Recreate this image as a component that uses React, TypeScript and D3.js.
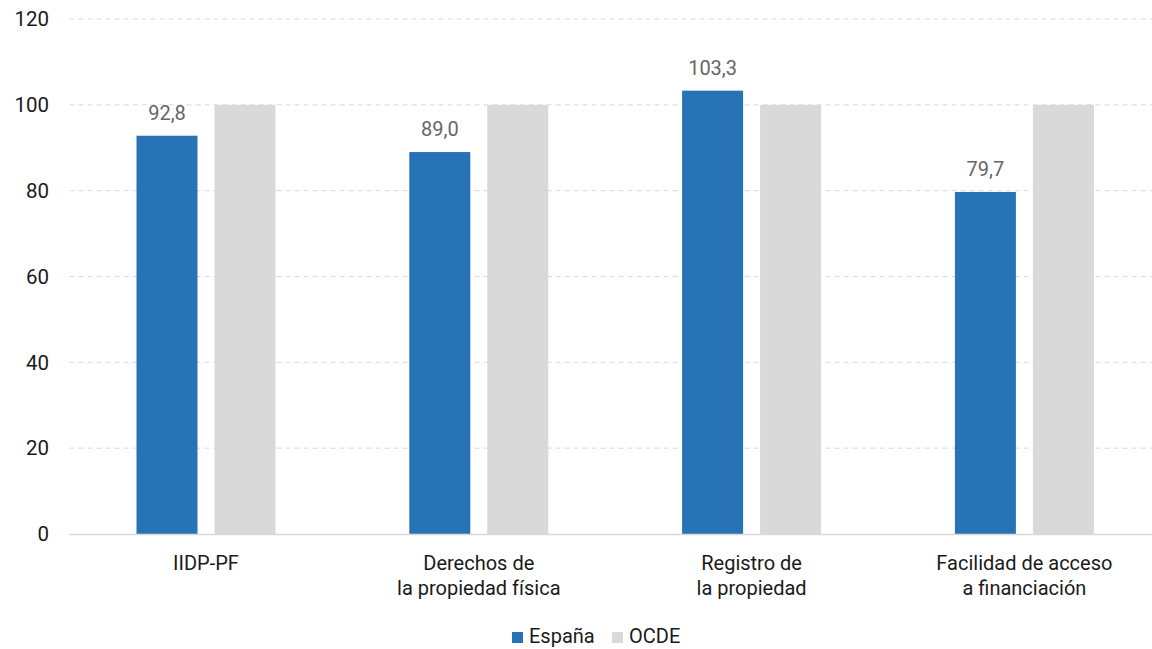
import React from "react";
import * as d3 from "d3";

const categories: string[][] = [
  ["IIDP-PF"],
  ["Derechos de", "la propiedad física"],
  ["Registro de", "la propiedad"],
  ["Facilidad de acceso", "a financiación"],
];
const espana: number[] = [92.8, 89.0, 103.3, 79.7];
const ocde: number[] = [100, 100, 100, 100];
const yTicks: number[] = [0, 20, 40, 60, 80, 100, 120];
const seriesNames: string[] = ["España", "OCDE"];

const W = 1152;
const H = 649;
const FONT = "Roboto, 'DejaVu Sans', sans-serif";
const BLUE = "#2873B6";
const GRAY = "#D9D9D9";

export default function App() {
  const left = 69.6;
  const right = 1160.8;
  const top = 19;
  const bottom = 534;

  const x = d3
    .scaleBand<number>()
    .domain(d3.range(categories.length))
    .range([left, right])
    .paddingInner(0)
    .paddingOuter(0);
  const y = d3.scaleLinear().domain([0, 120]).range([bottom, top]);

  const barW = 61;
  const gap = 17;
  const fmt = (v: number) => v.toFixed(1).replace(".", ",");

  return (
    <svg
      width={W}
      height={H}
      style={{ position: "absolute", left: 0, top: 0, background: "#fff" }}
      fontFamily={FONT}
    >
      {yTicks.map((t) => (
        <g key={t}>
          {t > 0 && (
            <line
              x1={left}
              x2={W}
              y1={y(t)}
              y2={y(t)}
              stroke={GRAY}
              strokeDasharray="5,4"
              strokeWidth={1}
            />
          )}
          <text
            x={49}
            y={y(t)}
            dy="0.35em"
            textAnchor="end"
            fontSize={20.5}
            fill="#1a1a1a"
          >
            {t}
          </text>
        </g>
      ))}
      {categories.map((c, i) => {
        const cx = (x(i) as number) + x.bandwidth() / 2;
        const bx = cx - gap / 2 - barW;
        const gx = cx + gap / 2;
        return (
          <g key={i}>
            <rect x={bx} y={y(espana[i])} width={barW} height={bottom - y(espana[i])} fill={BLUE} />
            <rect x={gx} y={y(ocde[i])} width={barW} height={bottom - y(ocde[i])} fill={GRAY} />
            <text
              x={bx + barW / 2}
              y={y(espana[i]) - 16}
              textAnchor="middle"
              fontSize={20}
              fill="#666"
            >
              {fmt(espana[i])}
            </text>
            {c.map((line, j) => (
              <text
                key={j}
                x={cx}
                y={570 + j * 25}
                textAnchor="middle"
                fontSize={20}
                fill="#1a1a1a"
              >
                {line}
              </text>
            ))}
          </g>
        );
      })}
      <line x1={left} x2={W} y1={bottom + 0.5} y2={bottom + 0.5} stroke={GRAY} strokeWidth={1.5} />
      {seriesNames.map((s, i) => {
        const lx = i === 0 ? 512 : 612;
        return (
          <g key={s}>
            <rect x={lx} y={632} width={11} height={11} fill={i === 0 ? BLUE : GRAY} />
            <text x={lx + 17} y={643} fontSize={20} fill="#1a1a1a">
              {s}
            </text>
          </g>
        );
      })}
    </svg>
  );
}
